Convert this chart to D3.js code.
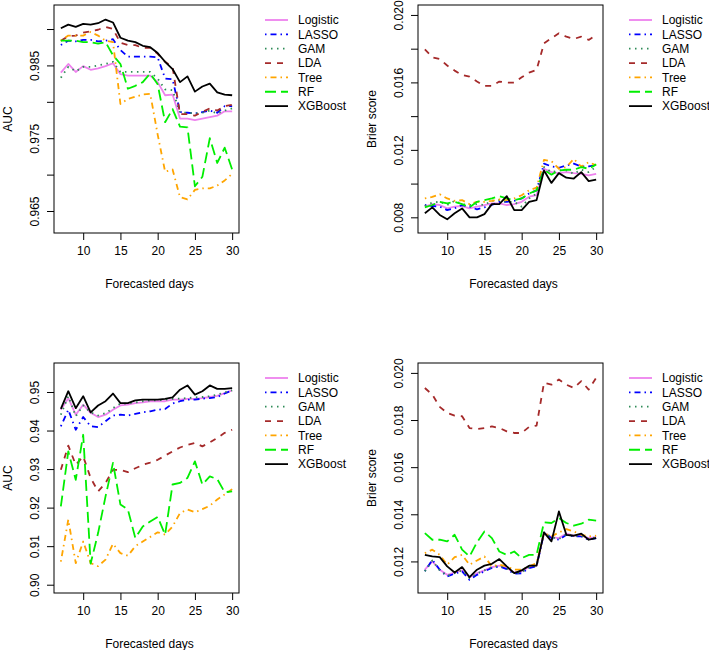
<!DOCTYPE html>
<html>
<head>
<meta charset="utf-8">
<script src="https://cdn.jsdelivr.net/npm/d3@7"></script>
<style>
  body { margin: 0; background: #fff; }
  svg { display: block; font-family: "Liberation Sans", Arial, Helvetica, sans-serif; }
</style>
</head>
<body>
<svg id="viz" width="709" height="650"></svg>
<script>
// forecast horizon (days)
const days = [7,8,9,10,11,12,13,14,15,16,17,18,19,20,21,22,23,24,25,26,27,28,29,30];
const models = ["Logistic", "LASSO", "GAM", "LDA", "Tree", "RF", "XGBoost"];
const xTicks = [10, 15, 20, 25, 30];

// top-left: AUC
const aucTop = {
  Logistic: [0.9840,0.9852,0.9841,0.9849,0.9844,0.9846,0.9849,0.9853,0.9838,0.9836,0.9836,0.9836,0.9836,0.9827,0.9809,0.9810,0.9777,0.9777,0.9775,0.9777,0.9779,0.9781,0.9787,0.9787],
  LASSO:    [0.9878,0.9884,0.9883,0.9885,0.9885,0.9883,0.9884,0.9886,0.9871,0.9862,0.9862,0.9862,0.9862,0.9861,0.9832,0.9831,0.9786,0.9785,0.9784,0.9786,0.9788,0.9785,0.9794,0.9794],
  GAM:      [0.9833,0.9848,0.9842,0.9848,0.9848,0.9850,0.9852,0.9855,0.9841,0.9841,0.9841,0.9841,0.9841,0.9832,0.9817,0.9816,0.9785,0.9785,0.9784,0.9785,0.9788,0.9784,0.9788,0.9791],
  LDA:      [0.9884,0.9890,0.9891,0.9895,0.9897,0.9899,0.9903,0.9900,0.9881,0.9878,0.9878,0.9874,0.9874,0.9866,0.9855,0.9848,0.9783,0.9783,0.9781,0.9786,0.9791,0.9788,0.9794,0.9796],
  Tree:     [0.9884,0.9891,0.9891,0.9891,0.9896,0.9891,0.9884,0.9882,0.9797,0.9804,0.9807,0.9810,0.9811,0.9755,0.9704,0.9707,0.9669,0.9666,0.9679,0.9681,0.9681,0.9685,0.9692,0.9701],
  RF:       [0.9884,0.9884,0.9884,0.9882,0.9882,0.9880,0.9882,0.9864,0.9852,0.9818,0.9822,0.9827,0.9839,0.9824,0.9772,0.9790,0.9766,0.9765,0.9684,0.9697,0.9750,0.9716,0.9737,0.9707],
  XGBoost:  [0.9901,0.9906,0.9903,0.9907,0.9906,0.9908,0.9913,0.9909,0.9888,0.9884,0.9882,0.9877,0.9875,0.9867,0.9855,0.9845,0.9827,0.9835,0.9814,0.9821,0.9825,0.9813,0.9810,0.9809]
};
// top-right: Brier score
const brierTop = {
  Logistic: [0.00863,0.00878,0.00873,0.00853,0.00863,0.00867,0.00853,0.00863,0.00873,0.00883,0.00883,0.00873,0.00878,0.00892,0.00922,0.00931,0.01088,0.01068,0.01062,0.01068,0.01062,0.01058,0.01049,0.01058],
  LASSO:    [0.00873,0.00867,0.00863,0.00843,0.00853,0.00873,0.00863,0.00847,0.00859,0.00873,0.00892,0.00892,0.00898,0.00912,0.00941,0.00960,0.01118,0.01102,0.01094,0.01108,0.01118,0.01102,0.01102,0.01108],
  GAM:      [0.00867,0.00888,0.00892,0.00873,0.00898,0.00878,0.00873,0.00878,0.00873,0.00898,0.00902,0.00892,0.00892,0.00863,0.00912,0.00941,0.01098,0.01068,0.01078,0.01078,0.01058,0.01082,0.01068,0.01100],
  LDA:      [0.01796,0.01749,0.01739,0.01700,0.01670,0.01644,0.01634,0.01605,0.01579,0.01579,0.01605,0.01599,0.01599,0.01630,0.01658,0.01674,0.01832,0.01862,0.01891,0.01871,0.01858,0.01871,0.01852,0.01881],
  Tree:     [0.00912,0.00921,0.00937,0.00912,0.00898,0.00902,0.00878,0.00892,0.00892,0.00898,0.00906,0.00902,0.00912,0.00931,0.00960,0.00976,0.01141,0.01133,0.01088,0.01098,0.01147,0.01100,0.01127,0.01108],
  RF:       [0.00859,0.00873,0.00892,0.00883,0.00892,0.00878,0.00859,0.00892,0.00902,0.00912,0.00925,0.00912,0.00902,0.00912,0.00941,0.00960,0.01082,0.01053,0.01078,0.01082,0.01082,0.01098,0.01088,0.01114],
  XGBoost:  [0.00824,0.00859,0.00814,0.00788,0.00824,0.00853,0.00800,0.00800,0.00819,0.00878,0.00878,0.00925,0.00843,0.00843,0.00892,0.00902,0.01078,0.01004,0.01062,0.01035,0.01030,0.01068,0.01015,0.01024]
};
// bottom-left: AUC
const aucBottom = {
  Logistic: [0.9454,0.9484,0.9441,0.9467,0.9446,0.9435,0.9441,0.9454,0.9465,0.9467,0.9471,0.9473,0.9476,0.9476,0.9476,0.9480,0.9480,0.9482,0.9482,0.9484,0.9487,0.9490,0.9497,0.9504],
  LASSO:    [0.9411,0.9454,0.9402,0.9435,0.9411,0.9409,0.9424,0.9439,0.9441,0.9439,0.9443,0.9447,0.9450,0.9454,0.9456,0.9470,0.9476,0.9480,0.9480,0.9483,0.9484,0.9487,0.9496,0.9504],
  GAM:      [0.9441,0.9489,0.9437,0.9465,0.9447,0.9439,0.9445,0.9458,0.9470,0.9470,0.9473,0.9476,0.9478,0.9478,0.9480,0.9482,0.9483,0.9484,0.9486,0.9487,0.9489,0.9493,0.9499,0.9504],
  LDA:      [0.9298,0.9361,0.9311,0.9333,0.9277,0.9242,0.9264,0.9298,0.9298,0.9292,0.9302,0.9311,0.9317,0.9324,0.9335,0.9346,0.9356,0.9363,0.9368,0.9359,0.9369,0.9381,0.9394,0.9402],
  Tree:     [0.9060,0.9169,0.9056,0.9112,0.9056,0.9048,0.9065,0.9106,0.9082,0.9075,0.9100,0.9112,0.9124,0.9136,0.9130,0.9151,0.9186,0.9195,0.9188,0.9196,0.9205,0.9221,0.9234,0.9248],
  RF:       [0.9203,0.9346,0.9272,0.9389,0.9055,0.9134,0.9229,0.9316,0.9208,0.9195,0.9121,0.9151,0.9164,0.9176,0.9130,0.9260,0.9264,0.9277,0.9320,0.9260,0.9281,0.9274,0.9240,0.9242],
  XGBoost:  [0.9456,0.9502,0.9458,0.9489,0.9447,0.9465,0.9476,0.9496,0.9471,0.9471,0.9478,0.9480,0.9480,0.9480,0.9482,0.9486,0.9506,0.9517,0.9493,0.9502,0.9517,0.9508,0.9508,0.9510]
};
// bottom-right: Brier score
const brierBottom = {
  Logistic: [0.01165,0.01200,0.01165,0.01143,0.01153,0.01162,0.01133,0.01150,0.01162,0.01176,0.01182,0.01172,0.01153,0.01158,0.01176,0.01182,0.01320,0.01303,0.01299,0.01318,0.01309,0.01309,0.01299,0.01303],
  LASSO:    [0.01158,0.01207,0.01165,0.01136,0.01148,0.01158,0.01122,0.01143,0.01158,0.01172,0.01179,0.01167,0.01148,0.01150,0.01172,0.01179,0.01320,0.01299,0.01292,0.01313,0.01306,0.01306,0.01292,0.01299],
  GAM:      [0.01158,0.01204,0.01162,0.01139,0.01150,0.01162,0.01129,0.01148,0.01162,0.01176,0.01182,0.01170,0.01150,0.01153,0.01176,0.01182,0.01323,0.01303,0.01295,0.01315,0.01309,0.01309,0.01295,0.01303],
  LDA:      [0.01936,0.01908,0.01856,0.01830,0.01819,0.01816,0.01766,0.01762,0.01766,0.01773,0.01766,0.01752,0.01745,0.01745,0.01771,0.01776,0.01958,0.01950,0.01972,0.01950,0.01936,0.01965,0.01929,0.01979],
  Tree:     [0.01235,0.01250,0.01228,0.01186,0.01218,0.01228,0.01186,0.01204,0.01221,0.01179,0.01186,0.01179,0.01165,0.01165,0.01179,0.01193,0.01320,0.01306,0.01323,0.01337,0.01327,0.01313,0.01306,0.01309],
  RF:       [0.01320,0.01292,0.01292,0.01285,0.01313,0.01250,0.01221,0.01281,0.01327,0.01299,0.01242,0.01228,0.01242,0.01214,0.01228,0.01228,0.01366,0.01363,0.01384,0.01363,0.01352,0.01360,0.01377,0.01373],
  XGBoost:  [0.01228,0.01221,0.01218,0.01179,0.01153,0.01176,0.01133,0.01165,0.01182,0.01190,0.01210,0.01179,0.01150,0.01162,0.01182,0.01182,0.01323,0.01285,0.01412,0.01313,0.01309,0.01318,0.01292,0.01299]
};

// y ticks per panel, and which of them carry a label
const aucTopTicks = [0.965, 0.970, 0.975, 0.980, 0.985, 0.990];
const aucTopLabels = [0.965, 0.975, 0.985];
const brierTopTicks = [0.008, 0.010, 0.012, 0.014, 0.016, 0.018, 0.020];
const brierTopLabels = [0.008, 0.012, 0.016, 0.020];
const aucBottomTicks = [0.90, 0.91, 0.92, 0.93, 0.94, 0.95];
const brierBottomTicks = [0.012, 0.014, 0.016, 0.018, 0.020];

// line styles (R col / lty look)
const styles = {
  Logistic: {color: "#EE82EE", dash: null},
  LASSO:    {color: "#0000FF", dash: "1.5 4 6 4"},
  GAM:      {color: "#2E8B57", dash: "1.5 4.5"},
  LDA:      {color: "#A52A2A", dash: "6 6"},
  Tree:     {color: "#FFA500", dash: "1.5 4 6 4"},
  RF:       {color: "#00EE00", dash: "11 5"},
  XGBoost:  {color: "#000000", dash: null}
};

const panels = [
  {data: aucTop, ytitle: "AUC", left: 54, right: 239, top: 5, bottom: 233,
   ylim: [0.96198, 0.99330], yticks: aucTopTicks, ylabels: aucTopLabels, fmt: ".3f"},
  {data: brierTop, ytitle: "Brier score", left: 418, right: 603, top: 5, bottom: 233,
   ylim: [0.00707, 0.02059], yticks: brierTopTicks, ylabels: brierTopLabels, fmt: ".3f"},
  {data: aucBottom, ytitle: "AUC", left: 54, right: 239, top: 363, bottom: 593,
   ylim: [0.89785, 0.95752], yticks: aucBottomTicks, ylabels: aucBottomTicks, fmt: ".2f"},
  {data: brierBottom, ytitle: "Brier  score", left: 418, right: 603, top: 363, bottom: 593,
   ylim: [0.01066, 0.02042], yticks: brierBottomTicks, ylabels: brierBottomTicks, fmt: ".3f"}
];

const svg = d3.select("#viz");
const FS = 12;

panels.forEach(function(p) {
  const x = d3.scaleLinear().domain([6.08, 30.92]).range([p.left, p.right]);
  const y = d3.scaleLinear().domain(p.ylim).range([p.bottom, p.top]);
  const g = svg.append("g");

  // x axis
  const xa = g.append("g")
    .attr("transform", "translate(0," + p.bottom + ")")
    .call(d3.axisBottom(x).tickValues(xTicks).tickSize(7).tickSizeOuter(0).tickPadding(6));
  xa.select(".domain").remove();
  xa.selectAll("text").attr("font-size", FS).attr("fill", "#000").attr("font-family", null);
  xa.selectAll("line").attr("stroke", "#000");

  // y axis, labels rotated like R
  const fmt = d3.format(p.fmt);
  const ya = g.append("g")
    .attr("transform", "translate(" + p.left + ",0)")
    .call(d3.axisLeft(y).tickValues(p.yticks).tickSize(7).tickSizeOuter(0)
      .tickFormat(function(d) {
        return p.ylabels.some(v => Math.abs(v - d) < 1e-9) ? fmt(d) : "";
      }));
  ya.select(".domain").remove();
  ya.selectAll("line").attr("stroke", "#000");
  ya.selectAll("text")
    .attr("font-size", FS).attr("fill", "#000").attr("font-family", null)
    .attr("x", 0).attr("y", 0).attr("dy", "0.35em")
    .attr("text-anchor", "middle")
    .attr("transform", "translate(-19,0) rotate(-90)");

  // series
  const line = d3.line().x((d, i) => x(days[i])).y(d => y(d));
  models.forEach(function(m) {
    g.append("path")
      .datum(p.data[m])
      .attr("d", line)
      .attr("fill", "none")
      .attr("stroke", styles[m].color)
      .attr("stroke-width", 1.8)
      .attr("stroke-dasharray", styles[m].dash)
      .attr("stroke-linejoin", "round");
  });

  // box
  g.append("rect")
    .attr("x", p.left).attr("y", p.top)
    .attr("width", p.right - p.left).attr("height", p.bottom - p.top)
    .attr("fill", "none").attr("stroke", "#000").attr("stroke-width", 1);

  // titles
  g.append("text")
    .attr("x", (p.left + p.right) / 2 + 3).attr("y", p.bottom + 55)
    .attr("text-anchor", "middle").attr("font-size", FS)
    .text("Forecasted days");
  g.append("text")
    .attr("transform", "translate(" + (p.left - 46) + "," + ((p.top + p.bottom) / 2) + ") rotate(-90)")
    .attr("text-anchor", "middle").attr("dy", "0.35em").attr("font-size", FS)
    .text(p.ytitle);

  // legend, no box
  const lg = g.append("g").attr("transform", "translate(" + (p.right + 26) + "," + (p.top + 15) + ")");
  models.forEach(function(m, i) {
    const row = lg.append("g").attr("transform", "translate(0," + (i * 14.35) + ")");
    row.append("line")
      .attr("x1", 0).attr("x2", 23).attr("y1", 0).attr("y2", 0)
      .attr("stroke", styles[m].color).attr("stroke-width", 1.8)
      .attr("stroke-dasharray", styles[m].dash);
    row.append("text")
      .attr("x", 33).attr("y", 0).attr("dy", "0.35em")
      .attr("font-size", FS)
      .text(m);
  });
});
</script>
</body>
</html>
